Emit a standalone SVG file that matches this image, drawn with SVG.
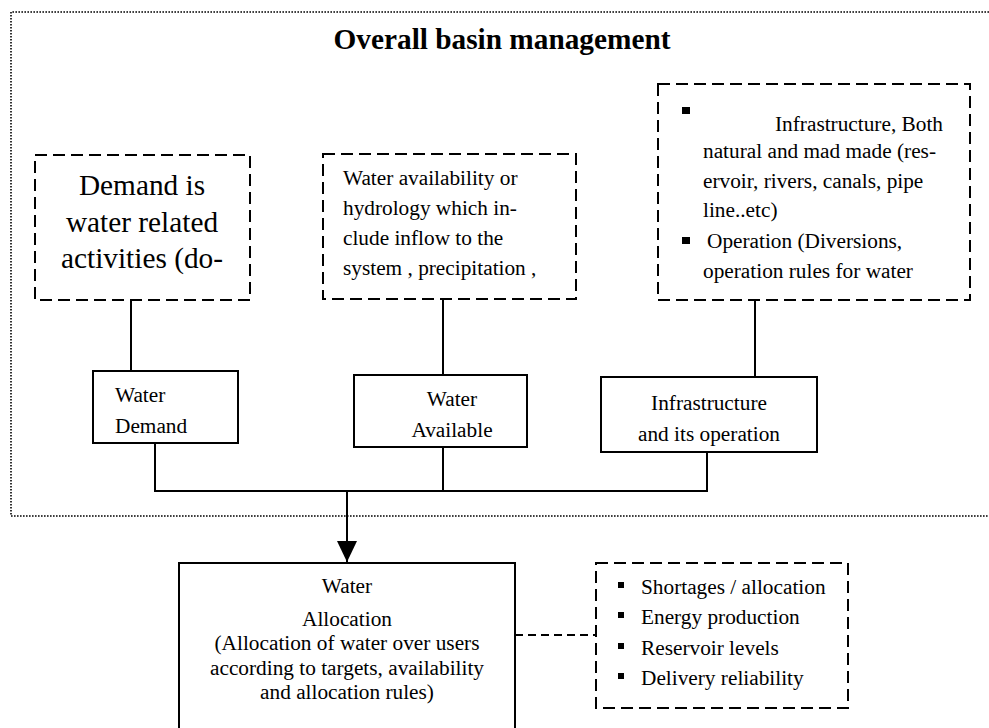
<svg xmlns="http://www.w3.org/2000/svg" width="989" height="728" viewBox="0 0 989 728">
  <style>
    text { font-family: "Liberation Serif", "Times New Roman", serif; fill: #000; }
    .t16 { font-size: 21.3px; }
    .big { font-size: 29.3px; }
    .title { font-size: 29.3px; font-weight: bold; }
    .solid { fill: #fff; stroke: #000; stroke-width: 2; }
    .dash { fill: #fff; stroke: #000; stroke-width: 2; stroke-dasharray: 12 6; }
    .dot { fill: none; stroke: #000; stroke-width: 1.6; stroke-dasharray: 1.6 1.4; }
    .line { fill: none; stroke: #000; stroke-width: 2; }
    .dline { fill: none; stroke: #000; stroke-width: 2; stroke-dasharray: 8 5; }
  </style>
  <defs>
    <marker id="arrow" markerUnits="userSpaceOnUse" markerWidth="22" markerHeight="20" refX="21" refY="10" orient="auto">
      <path d="M0,0 L21,10 L0,20 Z" fill="#000"/>
    </marker>
  </defs>

  <rect width="989" height="728" fill="#fff"/>

  <!-- basin boundary (dotted frame, open on the right) -->
  <g id="basin">
    <path class="dot" d="M992,12 H11 V516 H992"/>
    <text class="title" x="502" y="49" text-anchor="middle">Overall basin management</text>
  </g>

  <!-- connectors -->
  <g id="connectors">
    <path class="line" d="M131,300 V371"/>
    <path class="line" d="M443,299 V375"/>
    <path class="line" d="M755,300 V377"/>
    <path class="line" d="M155,443 V491 H707 V452"/>
    <path class="line" d="M443,447 V491"/>
    <path class="line" d="M347,491 V562" marker-end="url(#arrow)"/>
    <path class="dline" d="M515,635 H596"/>
  </g>

  <g id="demand-note">
    <rect class="dash" x="35" y="155" width="215" height="145"/>
    <text class="big" x="142" y="195" text-anchor="middle">Demand is</text>
    <text class="big" x="142" y="232" text-anchor="middle">water related</text>
    <text class="big" x="142" y="268" text-anchor="middle">activities (do-</text>
  </g>

  <g id="availability-note">
    <rect class="dash" x="323" y="154" width="253" height="145"/>
    <text class="t16" x="343" y="185">Water availability or</text>
    <text class="t16" x="343" y="215">hydrology which in-</text>
    <text class="t16" x="343" y="245">clude inflow to the</text>
    <text class="t16" x="343" y="275">system , precipitation ,</text>
  </g>

  <g id="infrastructure-note">
    <rect class="dash" x="658" y="84" width="312" height="216"/>
    <rect x="682" y="107" width="8" height="7" fill="#000"/>
    <text class="t16" x="775" y="131">Infrastructure, Both</text>
    <text class="t16" x="703" y="158">natural and mad made (res-</text>
    <text class="t16" x="703" y="188">ervoir, rivers, canals, pipe</text>
    <text class="t16" x="703" y="217">line..etc)</text>
    <rect x="682" y="237" width="8" height="7" fill="#000"/>
    <text class="t16" x="707" y="248">Operation (Diversions,</text>
    <text class="t16" x="703" y="278">operation rules for water</text>
  </g>

  <g id="water-demand">
    <rect class="solid" x="93" y="371" width="145" height="72"/>
    <text class="t16" x="115" y="402">Water</text>
    <text class="t16" x="115" y="433">Demand</text>
  </g>

  <g id="water-available">
    <rect class="solid" x="354" y="375" width="173" height="72"/>
    <text class="t16" x="452" y="406" text-anchor="middle">Water</text>
    <text class="t16" x="452" y="437" text-anchor="middle">Available</text>
  </g>

  <g id="infrastructure">
    <rect class="solid" x="601" y="377" width="216" height="75"/>
    <text class="t16" x="709" y="410" text-anchor="middle">Infrastructure</text>
    <text class="t16" x="709" y="441" text-anchor="middle">and its operation</text>
  </g>

  <g id="allocation">
    <rect class="solid" x="179" y="563" width="336" height="170"/>
    <text class="t16" x="347" y="593" text-anchor="middle">Water</text>
    <text class="t16" x="347" y="626" text-anchor="middle">Allocation</text>
    <text class="t16" x="347" y="650" text-anchor="middle">(Allocation of water over users</text>
    <text class="t16" x="347" y="675" text-anchor="middle">according to targets, availability</text>
    <text class="t16" x="347" y="699" text-anchor="middle">and allocation rules)</text>
  </g>

  <g id="outputs">
    <rect class="dash" x="596" y="563" width="252" height="145"/>
    <rect x="618" y="582" width="6" height="6" fill="#000"/>
    <text class="t16" x="641" y="594">Shortages / allocation</text>
    <rect x="618" y="612" width="6" height="6" fill="#000"/>
    <text class="t16" x="641" y="624">Energy production</text>
    <rect x="618" y="643" width="6" height="6" fill="#000"/>
    <text class="t16" x="641" y="655">Reservoir levels</text>
    <rect x="618" y="673" width="6" height="6" fill="#000"/>
    <text class="t16" x="641" y="685">Delivery reliability</text>
  </g>
</svg>
